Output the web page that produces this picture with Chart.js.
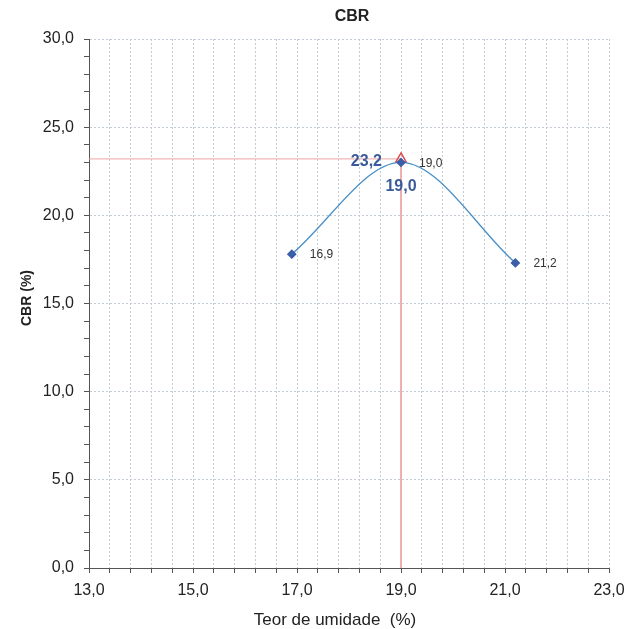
<!DOCTYPE html>
<html>
<head>
<meta charset="utf-8">
<script src="https://cdn.jsdelivr.net/npm/chart.js@4"></script>
<style>
  body { margin: 0; background: #fff; }
  #wrap { width: 629px; height: 629px; }
</style>
</head>
<body>
<div id="wrap"><canvas id="cbrChart" width="629" height="629"></canvas></div>
<script>
// data
var moisture = [16.9, 19.0, 21.2];      // Teor de umidade (%)
var cbr = [17.8, 23.0, 17.3];           // CBR (%)
var optMoisture = 19.0;
var optCbr = 23.2;

var xMajor = [13, 15, 17, 19, 21, 23];
var xTickLabels = ['13,0', '15,0', '17,0', '19,0', '21,0', '23,0'];
var yMajor = [0, 5, 10, 15, 20, 25, 30];
var yTickLabels = ['0,0', '5,0', '10,0', '15,0', '20,0', '25,0', '30,0'];

function fmt(v) {
    return v.toFixed(1).replace('.', ',');
}

// titles and point labels
var textPlugin = {
    id: 'texts',
    afterDraw: function(chart) {
        var ctx = chart.ctx;
        ctx.save();
        ctx.fillStyle = '#222';
        ctx.textAlign = 'center';
        ctx.textBaseline = 'middle';
        ctx.font = 'bold 16px "Liberation Sans", Arial, sans-serif';
        ctx.fillText('CBR', 352, 17);
        ctx.font = '17px "Liberation Sans", Arial, sans-serif';
        ctx.fillText('Teor de umidade  (%)', 335, 620);
        ctx.translate(27, 298);
        ctx.rotate(-Math.PI / 2);
        ctx.font = 'bold 14px "Liberation Sans", Arial, sans-serif';
        ctx.fillText('CBR (%)', 0, 0);
        ctx.restore();

        var meta = chart.getDatasetMeta(0);
        ctx.save();
        ctx.fillStyle = '#333';
        ctx.font = '12px "Liberation Sans", Arial, sans-serif';
        ctx.textAlign = 'left';
        ctx.textBaseline = 'middle';
        meta.data.forEach(function(pt, i) {
            ctx.fillText(fmt(moisture[i]), pt.x + 18, pt.y + 1);
        });

        var xs = chart.scales.x, ys = chart.scales.y;
        var px = xs.getPixelForValue(optMoisture);
        var py = ys.getPixelForValue(optCbr);
        ctx.fillStyle = '#3a5b9b';
        ctx.font = 'bold 16px "Liberation Sans", Arial, sans-serif';
        ctx.textAlign = 'right';
        ctx.fillText(fmt(optCbr), px - 19, py + 3);
        ctx.textAlign = 'center';
        ctx.fillText(fmt(optMoisture), px, py + 28);
        ctx.restore();
    }
};

var ctx = document.getElementById('cbrChart').getContext('2d');
new Chart(ctx, {
    type: 'scatter',
    data: {
        datasets: [{
            label: 'CBR',
            data: moisture.map(function(m, i) { return { x: m, y: cbr[i] }; }),
            showLine: true,
            cubicInterpolationMode: 'monotone',
            borderColor: '#4a8fc8',
            borderWidth: 1.3,
            pointStyle: 'rectRot',
            pointRadius: 4,
            pointBackgroundColor: '#3b5ea8',
            pointBorderColor: '#3b5ea8',
            order: 1
        }, {
            label: 'opt',
            data: [{ x: optMoisture, y: optCbr }],
            pointStyle: 'triangle',
            pointRadius: 6,
            pointBackgroundColor: 'rgba(255,255,255,0)',
            pointBorderColor: '#e04848',
            pointBorderWidth: 1.5,
            order: 2
        }, {
            label: 'guide',
            data: [{ x: xMajor[0], y: optCbr }, { x: optMoisture, y: optCbr }, { x: optMoisture, y: 0 }],
            showLine: true,
            tension: 0,
            borderColor: '#f0a4a4',
            borderWidth: 1,
            pointRadius: 0,
            order: 3
        }]
    },
    options: {
        responsive: false,
        animation: false,
        layout: { padding: { top: 39, right: 20, left: 0, bottom: 0 } },
        plugins: {
            legend: { display: false },
            tooltip: { enabled: false }
        },
        scales: {
            x: {
                type: 'linear',
                min: 13,
                max: 23,
                afterBuildTicks: function(scale) {
                    var t = [];
                    for (var k = 0; k <= 25; k++) {
                        t.push({ value: Math.round((13 + k * 0.4) * 10) / 10 });
                    }
                    scale.ticks = t;
                },
                afterFit: function(scale) {
                    scale.height = 61;
                    scale.paddingLeft = 0;
                    scale.paddingRight = 0;
                },
                ticks: {
                    autoSkip: false,
                    maxRotation: 0,
                    padding: 8,
                    color: '#222',
                    font: { family: '"Liberation Sans", Arial, sans-serif', size: 16 },
                    callback: function(v) {
                        var i = xMajor.indexOf(v);
                        return i >= 0 ? xTickLabels[i] : '';
                    }
                },
                grid: {
                    color: function(c) { return c.tick && c.tick.value === 13 ? 'rgba(0,0,0,0)' : '#c4ccd8'; },
                    tickColor: '#555',
                    tickLength: 5
                },
                border: { color: '#555', width: 1, dash: [2, 2] }
            },
            y: {
                min: 0,
                max: 30,
                ticks: {
                    stepSize: 1,
                    autoSkip: false,
                    padding: 10,
                    color: '#222',
                    font: { family: '"Liberation Sans", Arial, sans-serif', size: 16 },
                    callback: function(v) {
                        var i = yMajor.indexOf(v);
                        return i >= 0 ? yTickLabels[i] : '';
                    }
                },
                afterFit: function(scale) { scale.width = 89; },
                grid: {
                    color: function(c) {
                        if (!c.tick) return 'rgba(0,0,0,0)';
                        return (c.tick.value % 5 === 0 && c.tick.value !== 0) ? '#c4ccd8' : 'rgba(0,0,0,0)';
                    },
                    tickColor: '#555',
                    tickLength: 5
                },
                border: { color: '#555', width: 1, dash: [2, 2] }
            }
        }
    },
    plugins: [textPlugin]
});
</script>
</body>
</html>
